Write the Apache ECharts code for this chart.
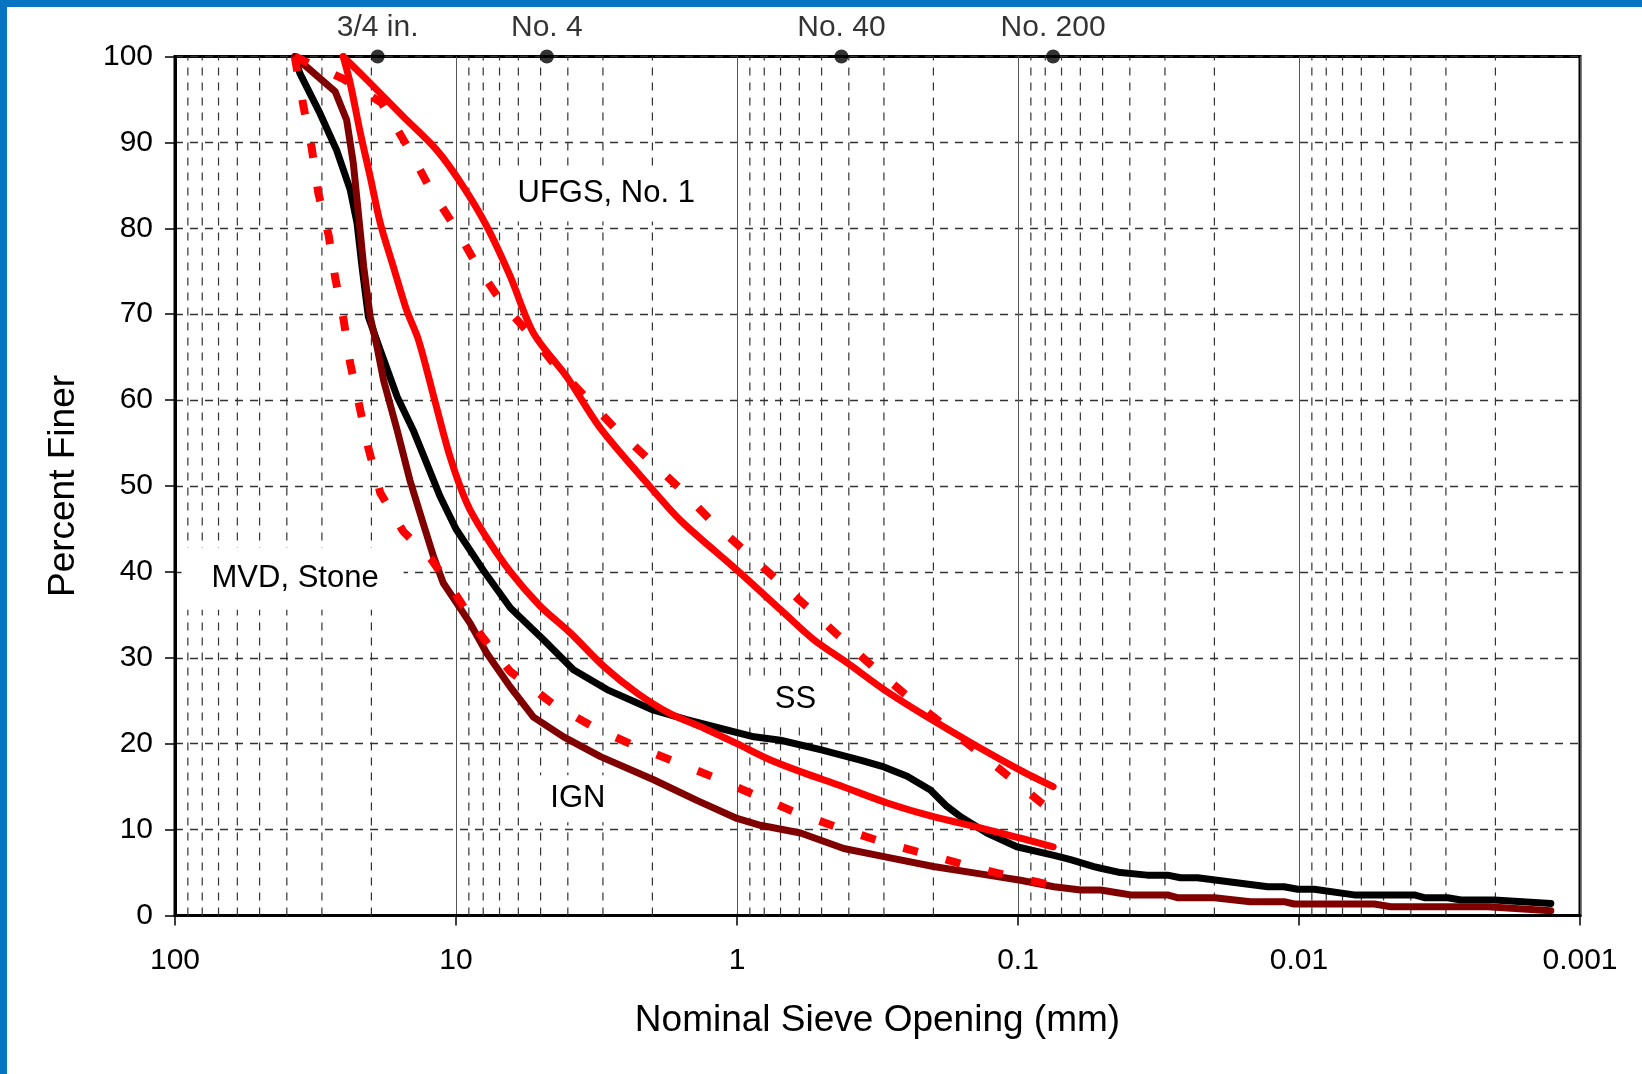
<!DOCTYPE html>
<html>
<head>
<meta charset="utf-8">
<script src="https://cdn.jsdelivr.net/npm/echarts@6/dist/echarts.min.js"></script>
<style>
html,body{margin:0;padding:0;background:#fff;}
#chart{width:1642px;height:1074px;}
</style>
</head>
<body>
<div id="chart"></div>
<script>
// ---------------- data ----------------
const xTickValues = [100, 10, 1, 0.1, 0.01, 0.001];
const xTickLabels = ['100', '10', '1', '0.1', '0.01', '0.001'];
const minorGridValues = [90, 80, 70, 60, 50, 40, 30, 20,
  9, 8, 7, 6, 5, 4, 3, 2,
  0.9, 0.8, 0.7, 0.6, 0.5, 0.4, 0.3, 0.2,
  0.09, 0.08, 0.07, 0.06, 0.05, 0.04, 0.03, 0.02,
  0.009, 0.008, 0.007, 0.006, 0.005, 0.004, 0.003, 0.002];

const sieveNames = ['3/4 in.', 'No. 4', 'No. 40', 'No. 200'];
const sieveSizes = [19.0, 4.75, 0.425, 0.075];

// SS (black)
const ssX = [37.5, 35.9, 30.5, 26.6, 23.8, 22.5, 21.6, 20.5, 18.6, 16.2, 14.2, 12.7, 11.4, 10.0, 8.0, 6.4, 4.88, 3.82, 2.90, 1.98, 1.51, 1.15, 0.87, 0.70, 0.505, 0.364, 0.30, 0.248, 0.205, 0.179, 0.16, 0.129, 0.101, 0.0745, 0.065, 0.0537, 0.0508, 0.0432, 0.0347, 0.0294, 0.0264, 0.023, 0.0129, 0.0113, 0.0101, 0.00883, 0.00637, 0.00389, 0.00358, 0.00296, 0.00265, 0.00202, 0.00127];
const ssY = [100, 98.0, 93.4, 89.1, 84.5, 80.6, 75.5, 69.7, 65.8, 60.4, 56.5, 52.6, 48.8, 45.0, 40.2, 35.8, 32.1, 28.6, 26.3, 23.9, 22.8, 21.8, 20.8, 20.4, 19.3, 18.1, 17.3, 16.2, 14.6, 12.7, 11.5, 9.6, 8.0, 7.0, 6.5, 5.7, 5.5, 5.0, 4.7, 4.7, 4.4, 4.4, 3.35, 3.35, 3.05, 3.05, 2.4, 2.4, 2.07, 2.07, 1.8, 1.8, 1.4];

// IGN (dark red)
const ignX = [37.5, 26.9, 24.5, 23.2, 22.2, 21.3, 20.2, 19.1, 18.1, 16.2, 14.6, 13.1, 12.0, 11.1, 10.0, 8.9, 7.76, 6.41, 5.30, 4.14, 3.06, 1.98, 1.39, 1.0, 0.826, 0.594, 0.417, 0.30, 0.20, 0.14, 0.098, 0.0745, 0.0598, 0.0508, 0.0443, 0.0397, 0.0294, 0.0271, 0.020, 0.0149, 0.0113, 0.0104, 0.0054, 0.00471, 0.00213, 0.00127];
const ignY = [100, 95.9, 92.6, 87.6, 81.4, 75.5, 69.7, 66.2, 62.3, 56.5, 50.7, 45.7, 41.7, 38.7, 36.5, 34.0, 30.5, 26.6, 23.1, 20.8, 18.5, 15.8, 13.4, 11.3, 10.5, 9.6, 7.8, 6.85, 5.7, 4.9, 4.1, 3.35, 2.97, 2.97, 2.65, 2.4, 2.4, 2.07, 2.07, 1.61, 1.61, 1.34, 1.34, 1.02, 1.02, 0.56];

// UFGS, No. 1 band (red solid)
const ufgsUpperX = [25.2, 20.2, 15.4, 11.7, 9.4, 7.76, 6.41, 5.30, 4.03, 3.06, 2.05, 1.59, 1.0, 0.70, 0.533, 0.405, 0.30, 0.21, 0.14, 0.098, 0.075];
const ufgsUpperY = [100, 96.9, 93.0, 89.1, 84.8, 80.2, 74.4, 67.8, 62.7, 56.7, 50.0, 46.0, 40.2, 35.6, 32.1, 29.4, 26.3, 23.1, 19.7, 16.9, 15.0];
const ufgsLowerX = [25.2, 23.8, 21.9, 20.2, 18.6, 16.7, 15.0, 13.6, 12.0, 10.5, 9.15, 8.0, 6.4, 5.01, 3.92, 2.98, 2.27, 1.73, 1.31, 1.0, 0.76, 0.578, 0.428, 0.292, 0.20, 0.136, 0.098, 0.075];
const ufgsLowerY = [100, 96.9, 91.1, 86.0, 80.6, 75.5, 70.5, 67.0, 60.4, 53.4, 48.0, 44.6, 40.0, 36.0, 32.9, 29.0, 25.9, 23.5, 21.8, 20.0, 18.1, 16.6, 15.1, 13.1, 11.5, 10.2, 9.0, 8.0];

// MVD, Stone band (red dashed)
const mvdUpperX = [37.5, 25.2, 18.4, 15.0, 12.4, 9.93, 8.3, 6.78, 5.30, 4.50, 3.52, 2.75, 2.14, 1.62, 1.24, 0.973, 0.74, 0.562, 0.44, 0.309, 0.235, 0.174, 0.132, 0.1007, 0.075];
const mvdUpperY = [100, 97.4, 94.6, 89.7, 84.7, 79.8, 75.3, 71.1, 67.2, 64.3, 60.6, 56.9, 53.6, 49.9, 46.0, 42.9, 39.4, 35.9, 32.7, 28.2, 24.9, 21.6, 18.5, 15.4, 12.0];
const mvdLowerX = [37.5, 34.9, 32.6, 30.9, 28.4, 26.9, 25.1, 23.8, 22.1, 20.5, 18.6, 15.4, 12.2, 9.80, 8.09, 6.41, 4.55, 3.19, 2.33, 1.66, 1.19, 0.86, 0.62, 0.417, 0.28, 0.196, 0.14, 0.098, 0.075];
const mvdLowerY = [100, 94.2, 89.3, 84.1, 79.2, 74.2, 69.3, 64.3, 59.4, 54.4, 49.2, 44.7, 41.4, 36.9, 32.5, 28.4, 24.7, 21.8, 19.8, 17.9, 16.0, 14.0, 12.0, 10.0, 8.2, 6.85, 5.49, 4.33, 3.5];

// curve annotations (anchor in data coordinates)
const noteTexts = ['UFGS, No. 1', 'MVD, Stone', 'SS', 'IGN'];
const noteX = [2.92, 38.15, 0.659, 3.61];
const noteY = [84.0, 39.2, 25.1, 13.6];

// ---------------- chart ----------------
const FONT = "'Liberation Sans', Arial, Helvetica, sans-serif";
const zip = (xs, ys) => xs.map((x, i) => [x, ys[i]]);
const notePadding = [[10, 22, 14, 22], [11, 25, 20, 30], [5, 14, 10, 29], [6, 20, 10, 15]];

const chart = echarts.init(document.getElementById('chart'), null, {renderer: 'canvas'});

function curve(name, xs, ys, color, width, dashed, z, smooth) {
  return {
    name: name, type: 'line', data: zip(xs, ys), z: z,
    showSymbol: false, symbol: 'none', smooth: smooth || false, silent: true,
    lineStyle: dashed
      ? {color: color, width: width, type: [15, 29], cap: 'butt'}
      : {color: color, width: width, type: 'solid', cap: 'round', join: 'round'}
  };
}

const option = {
  animation: false,
  backgroundColor: '#ffffff',
  textStyle: {fontFamily: FONT},
  graphic: [
    {type: 'rect', left: 0, top: 0, shape: {width: 1642, height: 7}, style: {fill: '#0673C3'}, z: 100},
    {type: 'rect', left: 0, top: 0, shape: {width: 7, height: 1074}, style: {fill: '#0673C3'}, z: 100}
  ],
  grid: {left: 175, right: 62, top: 56.5, bottom: 158.5, show: true, borderColor: '#000', borderWidth: 3, backgroundColor: 'transparent'},
  xAxis: {
    type: 'log', logBase: 10, min: 0.001, max: 100, inverse: true,
    name: 'Nominal Sieve Opening (mm)', nameLocation: 'middle', nameGap: 87,
    nameTextStyle: {fontSize: 37, color: '#000', fontFamily: FONT},
    axisLine: {show: true, lineStyle: {color: '#000', width: 3}},
    axisTick: {show: true, length: 10, lineStyle: {color: '#000', width: 1.5}},
    axisLabel: {
      fontSize: 30, color: '#000', fontFamily: FONT, margin: 30, lineHeight: 30,
      formatter: function (v) {
        const i = xTickValues.findIndex(t => Math.abs(Math.log10(t) - Math.log10(v)) < 1e-6);
        return i >= 0 ? xTickLabels[i] : '';
      }
    },
    splitLine: {show: true, lineStyle: {color: '#555', width: 1, type: 'solid'}},
    minorTick: {show: false}, minorSplitLine: {show: false}
  },
  yAxis: {
    type: 'value', min: 0, max: 100, interval: 10,
    name: 'Percent Finer', nameLocation: 'middle', nameGap: 93,
    nameTextStyle: {fontSize: 37, color: '#000', fontFamily: FONT},
    axisLine: {show: true, lineStyle: {color: '#000', width: 3}},
    axisTick: {show: true, length: 10, lineStyle: {color: '#000', width: 1.5}},
    axisLabel: {fontSize: 30, color: '#000', fontFamily: FONT, margin: 22},
    splitLine: {show: true, lineStyle: {color: '#333', width: 1.3, type: [8, 7]}}
  },
  series: [
    {
      name: 'minor grid', type: 'custom', z: 1, silent: true,
      data: minorGridValues.map(v => [v, 0]),
      renderItem: function (params, api) {
        const p0 = api.coord([api.value(0), 0]);
        const p1 = api.coord([api.value(0), 100]);
        return {
          type: 'line',
          shape: {x1: p0[0], y1: p0[1], x2: p1[0], y2: p1[1]},
          style: {stroke: '#333', lineWidth: 1.2, lineDash: [8, 7], fill: null}
        };
      }
    },
    {
      name: 'notes', type: 'custom', z: 3, silent: true, clip: false,
      data: zip(noteX, noteY),
      renderItem: function (params, api) {
        const pt = api.coord([api.value(0), api.value(1)]);
        const i = params.dataIndex;
        return {
          type: 'text', x: pt[0], y: pt[1],
          style: {
            text: noteTexts[i], fill: '#000', font: '31px ' + FONT,
            align: 'center', verticalAlign: 'middle', lineHeight: 31,
            backgroundColor: '#ffffff', padding: notePadding[i]
          }
        };
      }
    },
    curve('SS', ssX, ssY, '#000000', 7, false, 4),
    curve('IGN', ignX, ignY, '#800000', 7, false, 5),
    curve('UFGS upper', ufgsUpperX, ufgsUpperY, '#ff0000', 7, false, 6, 0.3),
    curve('UFGS lower', ufgsLowerX, ufgsLowerY, '#ff0000', 7, false, 6, 0.3),
    curve('MVD upper', mvdUpperX, mvdUpperY, '#ff0000', 8, true, 7),
    curve('MVD lower', mvdLowerX, mvdLowerY, '#ff0000', 8, true, 7),
    {
      name: 'sieves', type: 'scatter', z: 9, silent: true, clip: false,
      symbol: 'circle', symbolSize: 14,
      itemStyle: {color: '#000'},
      data: zip(sieveSizes, sieveSizes.map(() => 100)),
      label: {
        show: true, position: 'top', distance: 7, color: '#000', fontSize: 30, lineHeight: 30, fontFamily: FONT,
        formatter: p => sieveNames[p.dataIndex]
      }
    }
  ]
};
chart.setOption(option);
</script>
</body>
</html>
